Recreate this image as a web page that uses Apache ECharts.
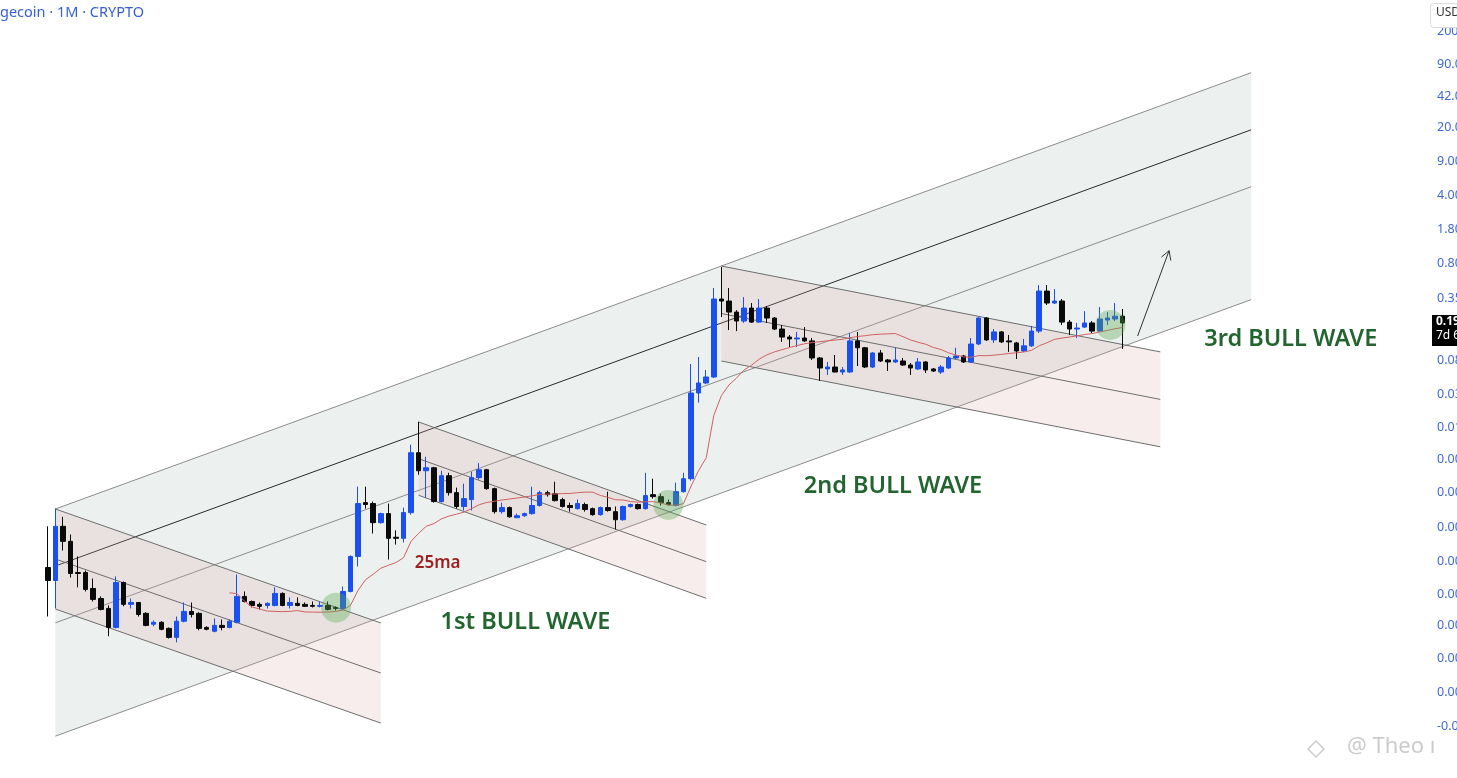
<!DOCTYPE html>
<html>
<head>
<meta charset="utf-8">
<script src="https://cdn.jsdelivr.net/npm/echarts@6/dist/echarts.min.js"></script>
<style>
html,body{margin:0;padding:0;background:#fff;}
#chart{width:1457px;height:778px;}
</style>
</head>
<body>
<div id="chart"></div>
<script>
// ---------- DATA (monthly DOGE candles, Dec 2013 .. Oct 2025) ----------
const opens = [0.000575,0.000422,0.00153,0.00107,0.00051,0.00051,0.000349,0.000275,0.000217,0.000138,
0.000402,0.000239,0.00025,0.000193,0.000149,0.000156,0.000135,0.000109,0.00016,0.000202,
0.000193,0.000138,0.000126,0.000145,0.000138,0.000156,0.000289,0.000256,0.000239,0.000233,
0.000233,0.00031,0.000233,0.000245,0.000239,0.000233,0.000228,0.000233,0.000222,0.000217,
0.000325,0.000747,0.00269,0.00263,0.00167,0.00207,0.00118,0.00115,0.00212,0.00881,
0.00574,0.00616,0.00276,0.0051,0.00341,0.00245,0.00289,0.00487,0.00588,0.00375,
0.00217,0.00239,0.00188,0.00197,0.00207,0.00251,0.00341,0.00333,0.00289,0.00251,
0.00233,0.00257,0.00233,0.00202,0.00239,0.00217,0.00179,0.00245,0.00257,0.00233,
0.00325,0.0031,0.00269,0.00251,0.00349,0.00475,0.0365,0.0463,0.0534,0.341,
0.325,0.25,0.202,0.275,0.197,0.275,0.217,0.167,0.138,0.132,
0.135,0.126,0.0839,0.0646,0.0677,0.0601,0.0601,0.126,0.107,0.0677,
0.0945,0.08,0.0763,0.0781,0.071,0.0646,0.0763,0.0646,0.0601,0.0661,
0.0839,0.088,0.0763,0.117,0.217,0.129,0.156,0.126,0.12,0.0991,
0.112,0.159,0.412,0.31,0.325,0.197,0.167,0.175,0.193,0.159,
0.207,0.212,0.227];
const closes = [0.000422,0.00153,0.00107,0.000498,0.000498,0.000341,0.000269,0.000212,0.000138,0.000402,
0.000239,0.00025,0.000188,0.000145,0.000156,0.000132,0.000109,0.00016,0.000202,0.000188,
0.000135,0.000132,0.000145,0.000138,0.00016,0.000289,0.000256,0.000233,0.000228,0.000245,
0.00031,0.000233,0.00025,0.000233,0.000228,0.000228,0.000233,0.000212,0.000217,0.000325,
0.000747,0.00263,0.00257,0.00167,0.00207,0.00115,0.00115,0.00212,0.00881,0.00574,
0.00616,0.00276,0.0051,0.00341,0.00245,0.00296,0.00487,0.00588,0.00375,0.00217,
0.00239,0.00192,0.00197,0.00207,0.00251,0.00341,0.00325,0.00282,0.00245,0.00239,
0.00263,0.00228,0.00202,0.00239,0.00223,0.00179,0.00245,0.00257,0.00233,0.00318,
0.0031,0.00269,0.00257,0.00349,0.00475,0.0365,0.0463,0.0534,0.341,0.325,
0.25,0.202,0.275,0.197,0.275,0.217,0.167,0.138,0.132,0.135,
0.126,0.0839,0.0661,0.0677,0.0601,0.0631,0.126,0.107,0.0677,0.0945,
0.0781,0.0763,0.08,0.071,0.0661,0.0763,0.0631,0.0616,0.0677,0.0839,
0.088,0.0763,0.117,0.217,0.129,0.156,0.123,0.123,0.0991,0.112,
0.159,0.412,0.31,0.325,0.197,0.167,0.171,0.193,0.159,0.212,
0.217,0.227,0.193];
const lows = [0.000179,0.000217,0.00086,0.000453,0.000358,0.000325,0.000256,0.000207,0.000112,0.000135,
0.000228,0.000217,0.000179,0.000142,0.000142,0.000129,0.000106,0.0000968,0.000156,0.000175,
0.000129,0.000129,0.000123,0.000129,0.000135,0.000152,0.00025,0.000222,0.000212,0.000217,
0.000228,0.000228,0.000217,0.000228,0.000225,0.000222,0.000222,0.000207,0.000207,0.000212,
0.000318,0.000589,0.00233,0.00129,0.00163,0.000695,0.00099,0.00104,0.00202,0.00521,
0.00302,0.00269,0.00269,0.00318,0.00233,0.00223,0.00223,0.00464,0.00366,0.00207,
0.00207,0.00188,0.00186,0.00192,0.00202,0.00245,0.0031,0.00276,0.00239,0.00217,
0.00228,0.00217,0.00197,0.00197,0.00217,0.00142,0.00175,0.00239,0.00228,0.00228,
0.00296,0.00251,0.00251,0.00245,0.00341,0.00453,0.029,0.045,0.0521,0.222,
0.163,0.159,0.193,0.193,0.193,0.193,0.163,0.123,0.109,0.109,
0.123,0.08,0.0485,0.056,0.0595,0.056,0.0587,0.0693,0.0661,0.0661,
0.0763,0.0616,0.0745,0.0693,0.056,0.0631,0.0587,0.0601,0.0573,0.0646,
0.0819,0.0745,0.0745,0.114,0.126,0.12,0.12,0.0968,0.0819,0.0968,
0.109,0.152,0.296,0.303,0.184,0.145,0.135,0.171,0.152,0.156,
0.184,0.202,0.104];
const highs = [0.00153,0.00233,0.00192,0.00126,0.000747,0.000535,0.000442,0.000289,0.000233,0.000464,
0.000412,0.000275,0.000252,0.000198,0.000163,0.00016,0.000138,0.000179,0.00025,0.00025,
0.000198,0.000142,0.000171,0.000167,0.000167,0.000487,0.000325,0.000262,0.00025,0.00025,
0.000358,0.000318,0.000282,0.000282,0.00025,0.000256,0.000256,0.000256,0.000228,0.000366,
0.000765,0.00393,0.00393,0.00276,0.00212,0.00263,0.00139,0.00239,0.01065,0.0184,
0.008,0.0063,0.00574,0.00547,0.00384,0.00422,0.0056,0.00689,0.006,0.00384,
0.00269,0.00245,0.00207,0.00212,0.00393,0.00357,0.00357,0.00442,0.00302,0.00269,
0.00289,0.00269,0.00239,0.00245,0.00349,0.00245,0.00251,0.00263,0.00263,0.00547,
0.00475,0.00333,0.00289,0.00432,0.00547,0.0727,0.0859,0.0631,0.443,0.729,
0.443,0.262,0.357,0.31,0.341,0.288,0.222,0.184,0.145,0.156,
0.175,0.135,0.0859,0.0763,0.0901,0.0677,0.152,0.156,0.109,0.0968,
0.1015,0.0819,0.107,0.0839,0.0745,0.0839,0.0781,0.0661,0.071,0.088,
0.107,0.0901,0.135,0.222,0.222,0.167,0.159,0.145,0.123,0.132,
0.18,0.475,0.475,0.432,0.341,0.207,0.193,0.256,0.202,0.282,
0.25,0.31,0.269];

// y-axis tick labels (price -> text as shown, clipped at the right edge)
const tickValues = [200, 90, 42, 20, 9, 4, 1.8, 0.8, 0.35, 0.08, 0.035, 0.016, 0.0075, 0.0034, 0.0015, 0.00067, 0.0003, 0.000146, 0.0000667, 0.0000297, 0.0000132];
const tickLabels = ['200','90.0','42.0','20.0','9.00','4.00','1.80','0.80','0.35','0.08','0.03','0.01','0.00','0.00','0.00','0.00','0.00','0.00','0.00','0.00','-0.0'];

// drawings (candle index, price)
const riseX = [1, 159];
const riseTop = [0.00231, 74.3];
const riseL1 = [0.000595, 19.1];
const riseL2 = [0.000154, 4.93];
const riseBottom = [0.0000104, 0.336];

const fallX = [[1, 44], [49, 87], [89, 147]];
const fallTop = [[0.00231, 0.0001535], [0.0183, 0.001579], [0.748, 0.09696]];
const fallMid = [[0.000703, 0.0000467], [0.007644, 0.00066], [0.2416, 0.03132]];
const fallBottom = [[0.000214, 0.0000142], [0.0032, 0.000276], [0.07808, 0.01014]];

const circleX = [38.1, 82.0, 140.4];
const circleY = [0.000221, 0.00254, 0.1838];

const arrowX = [144, 148.16];
const arrowY = [0.1415, 1.077];

const waveText = ['1st BULL WAVE', '2nd BULL WAVE', '3rd BULL WAVE'];
const waveX = [51.9, 99.9, 152.8];
const waveY = [0.000157, 0.00399, 0.1318];
const maText = ['25ma'];
const maTextX = [48.5];
const maTextY = [0.000639];

const MA_PERIOD = 25;
const N_CATS = 183;

// ---------- build ----------
const categories = [];
for (let k = 0; k < N_CATS; k++) {
  const m = (11 + k) % 12, y = 2013 + Math.floor((11 + k) / 12);
  categories.push(y + '-' + String(m + 1).padStart(2, '0'));
}
const candleData = opens.map((o, i) => [o, closes[i], lows[i], highs[i]]);
const maData = closes.map((c, i) => {
  if (i < MA_PERIOD - 1) return '-';
  let s = 0; for (let j = i - MA_PERIOD + 1; j <= i; j++) s += closes[j];
  return s / MA_PERIOD;
});

function seg(p, q, color) {
  return { type: 'line', shape: { x1: p[0], y1: p[1], x2: q[0], y2: q[1] }, style: { stroke: color, lineWidth: 1 } };
}

const chart = echarts.init(document.getElementById('chart'), null, { renderer: 'canvas' });
const option = {
  animation: false,
  backgroundColor: '#ffffff',
  grid: { left: 44, right: 28, top: 0, bottom: 0, containLabel: false, outerBoundsMode: 'none' },
  xAxis: [
    { type: 'category', data: categories, show: false, boundaryGap: true },
    { type: 'value', min: -0.5, max: N_CATS - 0.5, show: false }
  ],
  yAxis: {
    type: 'log', logBase: 10, min: 3.843e-6, max: 418.8, position: 'right',
    splitLine: { show: false }, axisLine: { show: false }, axisTick: { show: false },
    axisLabel: {
      customValues: tickValues, margin: 8, color: '#3f69d0', fontSize: 12.5, fontFamily: 'Noto Sans',
      formatter: function (v) {
        let best = 0, bd = Infinity;
        tickValues.forEach((t, k) => { const d = Math.abs(Math.log10(t) - Math.log10(v)); if (d < bd) { bd = d; best = k; } });
        return tickLabels[best];
      }
    }
  },
  series: [
    { // rising channel
      type: 'custom', xAxisIndex: 1, yAxisIndex: 0, silent: true, z: 1,
      data: [[riseX[0], riseTop[0]]], encode: { x: 0, y: 1 },
      renderItem: function (params, api) {
        const P = a => [api.coord([riseX[0], a[0]]), api.coord([riseX[1], a[1]])];
        const t = P(riseTop), l1 = P(riseL1), l2 = P(riseL2), b = P(riseBottom);
        return { type: 'group', children: [
          { type: 'polygon', shape: { points: [t[0], t[1], b[1], b[0]] }, style: { fill: '#ecf0ee' } },
          seg(t[0], t[1], '#8c8c8c'), seg(l1[0], l1[1], '#2a2a2a'), seg(l2[0], l2[1], '#8c8c8c'), seg(b[0], b[1], '#8c8c8c')
        ] };
      }
    },
    { // falling channels
      type: 'custom', xAxisIndex: 1, yAxisIndex: 0, silent: true, z: 2,
      data: fallX.map((x, k) => [x[0], fallTop[k][0]]), encode: { x: 0, y: 1 },
      renderItem: function (params, api) {
        const k = params.dataIndex, X = fallX[k];
        const P = a => [api.coord([X[0], a[0]]), api.coord([X[1], a[1]])];
        const t = P(fallTop[k]), m = P(fallMid[k]), b = P(fallBottom[k]);
        return { type: 'group', children: [
          { type: 'polygon', shape: { points: [t[0], t[1], b[1], b[0]] }, style: { fill: 'rgba(222,165,165,0.2)' } },
          seg(t[0], t[1], '#6e6e6e'), seg(m[0], m[1], '#6e6e6e'), seg(b[0], b[1], '#6e6e6e')
        ] };
      }
    },
    {
      type: 'candlestick', xAxisIndex: 0, yAxisIndex: 0, z: 3, barWidth: 5, silent: true,
      data: candleData,
      itemStyle: { color: '#1a50f0', color0: '#0a0a0a', borderColor: '#1a50f0', borderColor0: '#0a0a0a', borderWidth: 1 }
    },
    {
      type: 'line', xAxisIndex: 0, yAxisIndex: 0, z: 4, silent: true, data: maData,
      showSymbol: false, smooth: false, lineStyle: { color: '#d06262', width: 1 }
    },
    {
      type: 'scatter', xAxisIndex: 1, yAxisIndex: 0, z: 5, silent: true,
      data: circleX.map((x, k) => [x, circleY[k]]), symbolSize: 30,
      itemStyle: { color: 'rgba(90,170,80,0.45)' }
    },
    { // arrow
      type: 'custom', xAxisIndex: 1, yAxisIndex: 0, silent: true, z: 6,
      data: [[arrowX[0], arrowY[0]]], encode: { x: 0, y: 1 },
      renderItem: function (params, api) {
        const p = api.coord([arrowX[0], arrowY[0]]), q = api.coord([arrowX[1], arrowY[1]]);
        const ang = Math.atan2(q[1] - p[1], q[0] - p[0]), L = 10, s = Math.PI / 6;
        const h1 = [q[0] - L * Math.cos(ang - s), q[1] - L * Math.sin(ang - s)];
        const h2 = [q[0] - L * Math.cos(ang + s), q[1] - L * Math.sin(ang + s)];
        return { type: 'group', children: [seg(p, q, '#333'), seg(q, h1, '#333'), seg(q, h2, '#333')] };
      }
    },
    { // wave labels
      type: 'custom', xAxisIndex: 1, yAxisIndex: 0, silent: true, z: 7,
      data: waveX.map((x, k) => [x, waveY[k]]), encode: { x: 0, y: 1 },
      renderItem: function (params, api) {
        const k = params.dataIndex, p = api.coord([waveX[k], waveY[k]]);
        return { type: 'text', x: p[0], y: p[1], style: { text: waveText[k], fill: '#22652e', font: '600 23.5px "Noto Sans"', align: 'left', verticalAlign: 'middle' } };
      }
    },
    { // 25ma label
      type: 'custom', xAxisIndex: 1, yAxisIndex: 0, silent: true, z: 7,
      data: maTextX.map((x, k) => [x, maTextY[k]]), encode: { x: 0, y: 1 },
      renderItem: function (params, api) {
        const k = params.dataIndex, p = api.coord([maTextX[k], maTextY[k]]);
        return { type: 'text', x: p[0], y: p[1], style: { text: maText[k], fill: '#9b1f1f', font: '600 17px "Noto Sans"', align: 'left', verticalAlign: 'middle' } };
      }
    }
  ],
  graphic: [
    { type: 'text', left: 0, top: 5, style: { text: 'gecoin · 1M · CRYPTO', fill: '#3360d6', font: '14.5px "Noto Sans"' } },
    { type: 'rect', left: 1430, top: 3, shape: { width: 34, height: 24, r: 3 }, style: { fill: '#ffffff', stroke: '#dcdcdc', lineWidth: 1 }, z: 100 },
    { type: 'text', left: 1436, top: 7, style: { text: 'USD', fill: '#333', font: '12px "Noto Sans"' }, z: 101 },
    { type: 'rect', left: 1432, top: 315, shape: { width: 30, height: 31 }, style: { fill: '#000000' }, z: 100 },
    { type: 'text', left: 1436, top: 316, style: { text: '0.19', fill: '#ffffff', font: 'bold 12px "Noto Sans"' }, z: 101 },
    { type: 'text', left: 1436, top: 330, style: { text: '7d 6', fill: '#ffffff', font: '12px "Noto Sans"' }, z: 101 },
    { type: 'polygon', shape: { points: [[1316, 741], [1324, 749], [1316, 757], [1308, 749]] }, style: { fill: 'none', stroke: 'rgba(170,170,170,0.6)', lineWidth: 1.5 }, z: 100 },
    { type: 'text', left: 1347, top: 736, style: { text: '@ Theo ı', fill: 'rgba(160,160,160,0.55)', font: '22px "Noto Sans"' }, z: 100 }
  ]
};
chart.setOption(option);
</script>
</body>
</html>
